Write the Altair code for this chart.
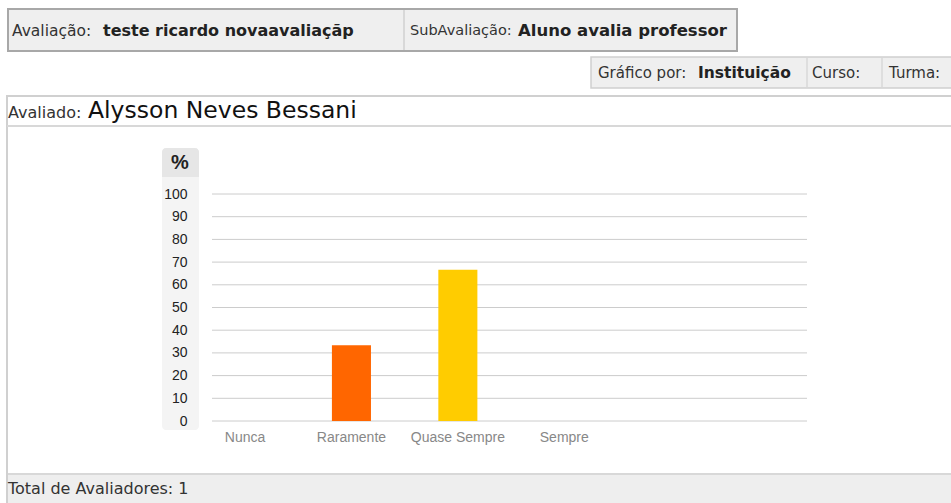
import altair as alt
import pandas as pd

# ---- data ----
categories = ["Nunca", "Raramente", "Quase Sempre", "Sempre"]
percentages = [0.0, 33.33, 66.67, 0.0]
bar_colors = ["#dc3912", "#ff6600", "#ffcc00", "#109618"]
y_ticks = [0, 10, 20, 30, 40, 50, 60, 70, 80, 90, 100]

avaliacao = "teste ricardo novaavaliaçãp"
subavaliacao = "Aluno avalia professor"
grafico_por = "Instituição"
avaliado = "Alysson Neves Bessani"
total_avaliadores = 1

# ---- layout (plot area placement on the page) ----
OX, OY = 212, 194      # plot origin on the page
W, H = 595, 227        # plot area size
PAGE_W, PAGE_H = 951, 503

df = pd.DataFrame({"cat": categories, "pct": percentages})
grid_df = pd.DataFrame({"v": y_ticks})
one = pd.DataFrame({"a": [0]})

PAGE_FONT = "DejaVu Sans"
CHART_FONT = "Liberation Sans"


def box(x1, y1, x2, y2, fill, stroke=None, sw=0, cr=0, opacity=1):
    kw = dict(fill=fill, fillOpacity=opacity, cornerRadius=cr)
    if stroke:
        kw.update(stroke=stroke, strokeWidth=sw)
    else:
        kw.update(strokeWidth=0)
    return alt.Chart(one).mark_rect(**kw).encode(
        x=alt.value(x1 - OX), x2=alt.value(x2 - OX),
        y=alt.value(y1 - OY), y2=alt.value(y2 - OY))


def hline(x1, x2, y, color, sw=1):
    return alt.Chart(one).mark_rule(color=color, strokeWidth=sw).encode(
        x=alt.value(x1 - OX), x2=alt.value(x2 - OX), y=alt.value(y - OY))


def vline(x, y1, y2, color, sw=1):
    return alt.Chart(one).mark_rule(color=color, strokeWidth=sw).encode(
        x=alt.value(x - OX), y=alt.value(y1 - OY), y2=alt.value(y2 - OY))


def txt(s, x, y, size, weight="normal", color="#333333", font=PAGE_FONT, align="left"):
    return alt.Chart(one).mark_text(
        text=s, font=font, fontSize=size, fontWeight=weight, color=color,
        align=align, baseline="middle").encode(
        x=alt.value(x - OX), y=alt.value(y - OY))


layers = [
    # main panel
    box(7, 96, 1000, 540, "#ffffff", "#d0d0d0", 2),
    hline(7, 1000, 126, "#d8d8d8", 2),
    # footer
    box(8, 474, 1000, 540, "#eeeeee"),
    hline(8, 1000, 474, "#d8d8d8", 2),
    # header box 1
    box(8, 9, 737, 51, "#efefef", "#a8a8a8", 2),
    vline(404, 10, 50, "#d8d8d8", 2),
    # header box 2
    box(591, 57, 1000, 88, "#efefef", "#d0d0d0", 1.5),
    vline(807, 58, 87, "#d8d8d8", 1.5),
    vline(882, 58, 87, "#d8d8d8", 1.5),
    # y-axis label background
    box(162, 148, 199, 430, "#f4f4f4", cr=4),
    box(162, 148, 199, 177, "#e6e6e6", cr=4),
    box(162, 170, 199, 177, "#e6e6e6"),
]

y_scale = alt.Scale(domain=[0, 100], nice=False)
y_axis = alt.Axis(values=y_ticks, grid=False, ticks=False, domain=False,
                  labelOverlap=False, labelPadding=25, labelFont=CHART_FONT,
                  labelFontSize=14, labelColor="#222222", zindex=1)

# gridlines (behind bars)
grid = alt.Chart(grid_df).mark_rule(color="#cccccc", strokeWidth=1).encode(
    y=alt.Y("v:Q", title=None, scale=y_scale, axis=y_axis),
    x=alt.value(0), x2=alt.value(W))

bars = alt.Chart(df).mark_bar().encode(
    x=alt.X("cat:N", sort=categories, title=None,
            scale=alt.Scale(domain=categories, range=[13.5, 371.8],
                            paddingInner=0.633, paddingOuter=0),
            axis=alt.Axis(labelAngle=0, ticks=False, domain=False, labelPadding=9,
                          labelFont=CHART_FONT, labelFontSize=14, labelColor="#888888",
                          zindex=1)),
    y=alt.Y("pct:Q", title=None, scale=y_scale, axis=y_axis),
    color=alt.Color("cat:N", scale=alt.Scale(domain=categories, range=bar_colors),
                    legend=None),
)

texts = [
    txt("Avaliação:", 12, 31, 15.5),
    txt(avaliacao, 103, 31, 16, "bold", "#222222"),
    txt("SubAvaliação:", 410, 31, 14.5),
    txt(subavaliacao, 518, 31, 16.5, "bold", "#222222"),
    txt("Gráfico por:", 598, 73, 15),
    txt(grafico_por, 698, 73, 15.5, "bold", "#222222"),
    txt("Curso:", 812, 73, 15),
    txt("Turma:", 889, 73, 15),
    txt("Avaliado:", 8, 113, 16),
    txt(avaliado, 88, 111, 23.5, color="#111111"),
    txt("%", 180, 163, 20, "bold", "#222222", font=CHART_FONT, align="center"),
    txt(f"Total de Avaliadores: {total_avaliadores}", 8, 489, 16),
]

chart = alt.layer(*layers, grid, bars, *texts).properties(
    width=W, height=H,
    padding={"left": OX, "top": OY, "right": PAGE_W - OX - W, "bottom": PAGE_H - OY - H},
    autosize=alt.AutoSizeParams(type="none"),
    background="#ffffff",
).configure_view(stroke=None)

chart.save("out.html", embed_options={"renderer": "svg", "actions": False})
